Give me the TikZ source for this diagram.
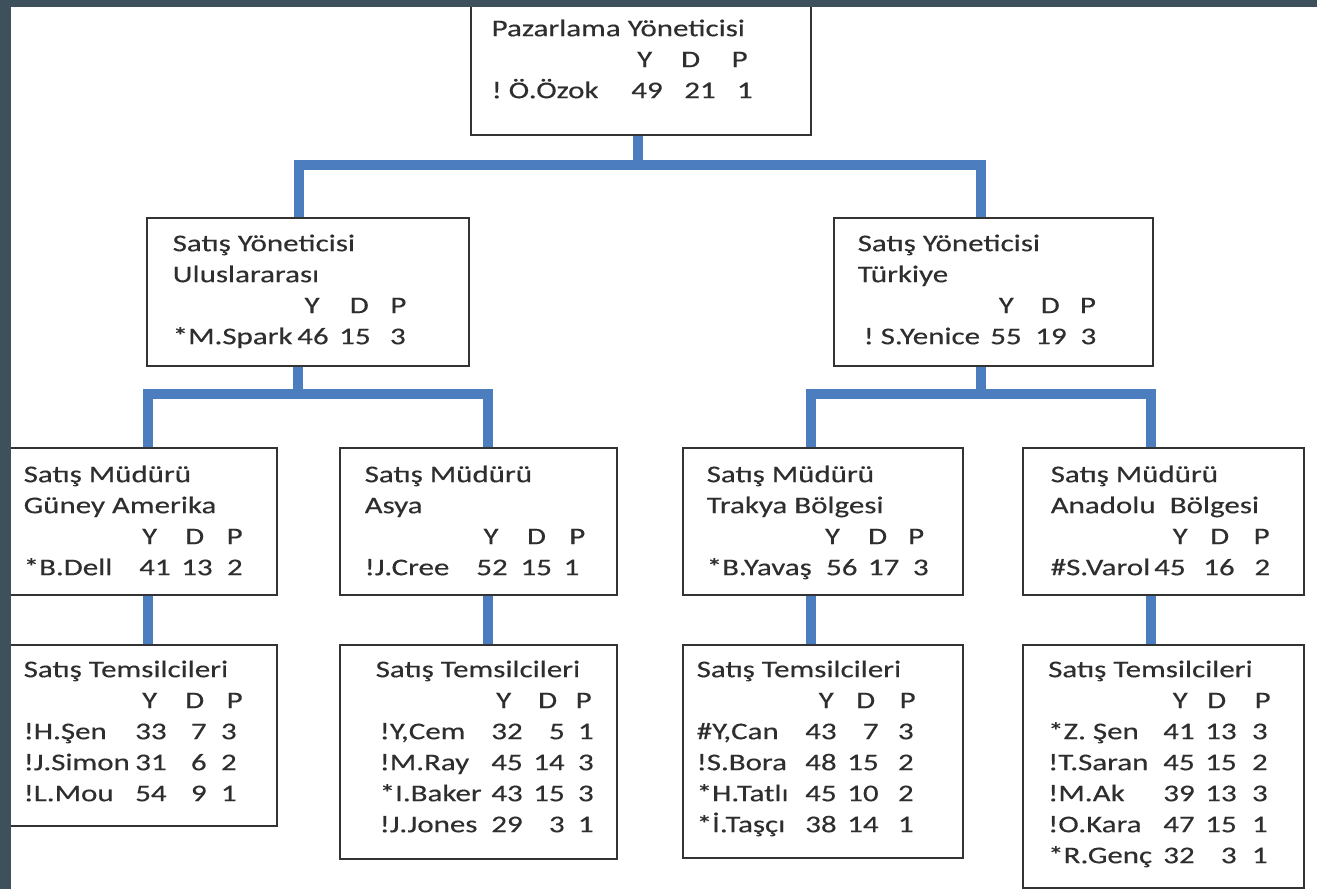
\documentclass[tikz,border=0pt]{standalone}
\usepackage{fontspec}
\setmainfont{Carlito}[FakeStretch=1.29,FakeBold=0.3]
\definecolor{slatebg}{RGB}{62,80,92}
\definecolor{connblue}{RGB}{76,125,190}
\newcommand\PosL[2]{\makebox[0pt][l]{\hspace*{#1}#2}}
\newcommand\PosC[2]{\makebox[0pt][l]{\hspace*{#1}\makebox[0pt]{#2}}}
\newcommand\PosR[2]{\makebox[0pt][l]{\hspace*{\dimexpr#1+2pt\relax}\makebox[0pt][r]{#2}}}
\newcommand\Cols[6]{\gdef\cYc{#1pt}\gdef\cDc{#2pt}\gdef\cPc{#3pt}\gdef\cYr{#4pt}\gdef\cDr{#5pt}\gdef\cPr{#6pt}}
\newcommand\HdrRow{\PosC{\cYc}{Y}\PosC{\cDc}{D}\PosC{\cPc}{P}\strut}
\newcommand\DatRow[5][0pt]{\PosL{#1}{#2}\PosR{\cYr}{#3}\PosR{\cDr}{#4}\PosR{\cPr}{#5}\strut}
\newcommand\TxtRow[1]{\PosL{0pt}{#1}\strut}
\begin{document}
\begin{tikzpicture}[x=1pt,y=-1pt,
  orgbox/.style={draw=black!80,line width=1.7pt,fill=white,rectangle,inner sep=0pt,anchor=north west},
  orgtxt/.style={anchor=north west,inner sep=0pt,align=left,font=\fontsize{24}{31}\selectfont,text=black!82},
  orgconn/.style={draw=connblue,line width=9.5pt}]
\useasboundingbox (0,0) rectangle (1317,889);
\fill[white] (0,0) rectangle (1317,889);
% boxes
\node[orgbox,minimum width=340pt,minimum height=144pt] (T) at (470,-10) {};
\node[orgbox,minimum width=322pt,minimum height=148pt] (L2L) at (146,217) {};
\node[orgbox,minimum width=319pt,minimum height=148pt] (L2R) at (833,217) {};
\node[orgbox,minimum width=268pt,minimum height=147pt] (L3G) at (8,447) {};
\node[orgbox,minimum width=277pt,minimum height=147pt] (L3A) at (339,447) {};
\node[orgbox,minimum width=280pt,minimum height=147pt] (L3T) at (682,447) {};
\node[orgbox,minimum width=281pt,minimum height=147pt] (L3N) at (1022,447) {};
\node[orgbox,minimum width=268pt,minimum height=181pt] (L4G) at (8,644) {};
\node[orgbox,minimum width=277pt,minimum height=214pt] (L4A) at (339,644) {};
\node[orgbox,minimum width=280pt,minimum height=213pt] (L4T) at (682,644) {};
\node[orgbox,minimum width=281pt,minimum height=243pt] (L4N) at (1022,644) {};
% connectors
\draw[orgconn] ([xshift=-3pt]T.south) -- ++(0,31);
\draw[orgconn] ([xshift=-9pt]L2L.north) -- ++(0,-52) -| ([xshift=-12.5pt]L2R.north);
\draw[orgconn] ([xshift=-10pt]L2L.south) -- ++(0,29);
\draw[orgconn] ([xshift=-12.5pt]L2R.south) -- ++(0,29);
\draw[orgconn] ([xshift=5pt]L3G.north) -- ++(0,-53) -| ([xshift=9.5pt]L3A.north);
\draw[orgconn] ([xshift=-12pt]L3T.north) -- ++(0,-53) -| ([xshift=-12.5pt]L3N.north);
\draw[orgconn] ([xshift=5pt]L3G.south) -- ([xshift=5pt]L4G.north);
\draw[orgconn] ([xshift=9.5pt]L3A.south) -- ([xshift=9.5pt]L4A.north);
\draw[orgconn] ([xshift=-12pt]L3T.south) -- ([xshift=-12pt]L4T.north);
\draw[orgconn] ([xshift=-12.5pt]L3N.south) -- ([xshift=-12.5pt]L4N.north);
% texts
\Cols{153}{199}{248}{169}{222}{259}
\node[orgtxt] (Tt) at (491,14.3) {\TxtRow{Pazarlama Yöneticisi}\\ \HdrRow\\ \DatRow{!\hspace{-0.1em} Ö.Özok}{49}{21}{1}};
\Cols{139.4}{186.6}{225.7}{154}{196}{231}
\node[orgtxt] (L2Lt) at (172,229.3) {\TxtRow{Satış Yöneticisi}\\ \TxtRow{Uluslararası}\\ \HdrRow\\ \DatRow{*M.Spark}{46}{15}{3}};
\Cols{148.6}{192.6}{230.3}{162}{207}{236.6}
\node[orgtxt] (L2Rt) at (857,229.3) {\TxtRow{Satış Yöneticisi}\\ \TxtRow{Türkiye}\\ \HdrRow\\ \DatRow[6pt]{!\hspace{-0.1em} S.Yenice}{55}{19}{3}};
\Cols{126}{171}{211}{145}{187}{217}
\node[orgtxt] (L3Gt) at (23,460.3) {\TxtRow{Satış Müdürü}\\ \TxtRow{Güney Amerika}\\ \HdrRow\\ \DatRow{*B.Dell}{41}{13}{2}};
\Cols{126.3}{171.8}{212.6}{141}{185.2}{212.6}
\node[orgtxt] (L3At) at (364,460.3) {\TxtRow{Satış Müdürü}\\ \TxtRow{Asya}\\ \HdrRow\\ \DatRow{!J.Cree}{52}{15}{1}};
\Cols{125.8}{171}{209.5}{148.8}{190.7}{220}
\node[orgtxt] (L3Tt) at (706,460.3) {\TxtRow{Satış Müdürü}\\ \TxtRow{Trakya Bölgesi}\\ \HdrRow\\ \DatRow{*B.Yavaş}{56}{17}{3}};
\Cols{129.5}{169}{211}{133}{182}{217.5}
\node[orgtxt] (L3Nt) at (1050,460.3) {\TxtRow{Satış Müdürü}\\ \TxtRow{Anadolu\hspace{0.3em} Bölgesi}\\ \HdrRow\\ \DatRow{\#S.Varol}{45}{16}{2}};
\Cols{126}{171}{211}{141}{181}{211}
\node[orgtxt] (L4Gt) at (23,655.3) {\TxtRow{Satış Temsilcileri}\\ \HdrRow\\ \DatRow{!H.Şen}{33}{7}{3}\\ \DatRow{!J.Simon}{31}{6}{2}\\ \DatRow{!L.Mou}{54}{9}{1}};
\Cols{128}{172}{208}{145}{187}{216}
\node[orgtxt] (L4At) at (375,655.3) {\TxtRow{Satış Temsilcileri}\\ \HdrRow\\ \DatRow[4pt]{!Y,Cem}{32}{5}{1}\\ \DatRow[4pt]{!M.Ray}{45}{14}{3}\\ \DatRow[4pt]{*I.Baker}{43}{15}{3}\\ \DatRow[4pt]{!J.Jones}{29}{3}{1}};
\Cols{129.5}{169}{211}{138}{180}{215}
\node[orgtxt] (L4Tt) at (696,655.3) {\TxtRow{Satış Temsilcileri}\\ \HdrRow\\ \DatRow{\#Y,Can}{43}{7}{3}\\ \DatRow{!S.Bora}{48}{15}{2}\\ \DatRow{*H.Tatlı}{45}{10}{2}\\ \DatRow{*İ.Taşçı}{38}{14}{1}};
\Cols{132}{168.5}{214.5}{144.5}{186.5}{217.5}
\node[orgtxt] (L4Nt) at (1047.5,655.3) {\TxtRow{Satış Temsilcileri}\\ \HdrRow\\ \DatRow{*Z. Şen}{41}{13}{3}\\ \DatRow{!T.Saran}{45}{15}{2}\\ \DatRow{!M.Ak}{39}{13}{3}\\ \DatRow{!O.Kara}{47}{15}{1}\\ \DatRow{*R.Genç}{32}{3}{1}};
% slide frame
\fill[slatebg] (0,0) rectangle (11,889);
\fill[slatebg] (0,0) rectangle (1317,7);
\end{tikzpicture}
\end{document}
